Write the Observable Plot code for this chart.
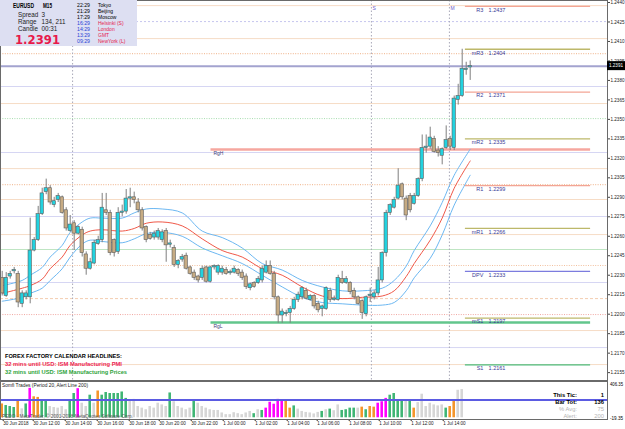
<!DOCTYPE html>
<html><head><meta charset="utf-8">
<script src="https://cdn.jsdelivr.net/npm/d3@7"></script>
<script src="https://cdn.jsdelivr.net/npm/@observablehq/plot@0.6"></script>
<style>
html,body{margin:0;padding:0;background:#fff}
#chart{width:625px;height:429px;overflow:hidden}
#chart svg{display:block}
</style></head><body><div id="chart"></div><script>
// ---------- DATA ----------
const open  = [1.2228,1.2214,1.2229,1.2233,1.2231,1.2208,1.2213,1.2213,1.2249,1.2257,1.2277,1.2294,1.2297,1.2284,1.2288,1.2290,1.2280,1.2264,1.2270,1.2262,1.2265,1.2246,1.2235,1.2239,1.2254,1.2257,1.2280,1.2278,1.2257,1.2248,1.2278,1.2279,1.2289,1.2290,1.2286,1.2280,1.2267,1.2261,1.2259,1.2259,1.2257,1.2264,1.2254,1.2251,1.2238,1.2242,1.2245,1.2236,1.2232,1.2229,1.2228,1.2236,1.2225,1.2236,1.2232,1.2232,1.2234,1.2232,1.2232,1.2234,1.2232,1.2229,1.2220,1.2224,1.2224,1.2226,1.2232,1.2237,1.2231,1.2213,1.2199,1.2200,1.2201,1.2204,1.2211,1.2213,1.2218,1.2211,1.2214,1.2208,1.2204,1.2204,1.2218,1.2211,1.2211,1.2227,1.2224,1.2224,1.2218,1.2213,1.2210,1.2200,1.2214,1.2213,1.2216,1.2226,1.2247,1.2278,1.2282,1.2289,1.2300,1.2289,1.2291,1.2285,1.2291,1.2304,1.2328,1.2329,1.2335,1.2326,1.2322,1.2328,1.2335,1.2328,1.2365,1.2368,1.2388,1.2390];
const high  = [1.2233,1.2232,1.2233,1.2236,1.2233,1.2218,1.2218,1.2274,1.2259,1.2283,1.2297,1.2304,1.2299,1.2290,1.2293,1.2291,1.2282,1.2276,1.2272,1.2268,1.2267,1.2248,1.2243,1.2257,1.2260,1.2293,1.2293,1.2280,1.2258,1.2282,1.2284,1.2296,1.2297,1.2294,1.2289,1.2282,1.2268,1.2263,1.2264,1.2266,1.2265,1.2266,1.2257,1.2253,1.2242,1.2246,1.2247,1.2237,1.2234,1.2230,1.2237,1.2237,1.2237,1.2238,1.2238,1.2237,1.2236,1.2234,1.2237,1.2235,1.2234,1.2231,1.2224,1.2225,1.2229,1.2237,1.2241,1.2241,1.2233,1.2214,1.2204,1.2203,1.2206,1.2213,1.2217,1.2221,1.2220,1.2215,1.2215,1.2210,1.2207,1.2221,1.2220,1.2214,1.2230,1.2233,1.2229,1.2225,1.2220,1.2214,1.2211,1.2214,1.2220,1.2218,1.2236,1.2248,1.2280,1.2285,1.2290,1.2312,1.2301,1.2291,1.2293,1.2293,1.2305,1.2338,1.2338,1.2344,1.2337,1.2329,1.2328,1.2345,1.2337,1.2368,1.2377,1.2404,1.2394,1.2395];
const low   = [1.2214,1.2213,1.2227,1.2231,1.2205,1.2205,1.2211,1.2208,1.2248,1.2256,1.2276,1.2292,1.2284,1.2282,1.2286,1.2277,1.2264,1.2263,1.2249,1.2261,1.2244,1.2230,1.2234,1.2238,1.2253,1.2255,1.2276,1.2245,1.2244,1.2246,1.2275,1.2277,1.2282,1.2285,1.2278,1.2264,1.2255,1.2257,1.2257,1.2257,1.2255,1.2240,1.2251,1.2236,1.2235,1.2240,1.2234,1.2230,1.2226,1.2224,1.2226,1.2224,1.2224,1.2234,1.2230,1.2230,1.2230,1.2230,1.2231,1.2229,1.2226,1.2219,1.2218,1.2220,1.2223,1.2224,1.2231,1.2230,1.2211,1.2193,1.2193,1.2198,1.2193,1.2203,1.2209,1.2211,1.2211,1.2210,1.2204,1.2201,1.2198,1.2203,1.2209,1.2210,1.2210,1.2223,1.2223,1.2215,1.2211,1.2207,1.2196,1.2198,1.2209,1.2211,1.2214,1.2224,1.2244,1.2276,1.2281,1.2288,1.2288,1.2272,1.2278,1.2284,1.2290,1.2302,1.2324,1.2327,1.2324,1.2321,1.2315,1.2327,1.2326,1.2326,1.2361,1.2367,1.2384,1.2380];
const close = [1.2216,1.2228,1.2231,1.2234,1.2209,1.2216,1.2216,1.2249,1.2257,1.2277,1.2293,1.2297,1.2286,1.2287,1.2291,1.2278,1.2266,1.2269,1.2262,1.2267,1.2247,1.2235,1.2240,1.2255,1.2257,1.2282,1.2278,1.2247,1.2247,1.2278,1.2279,1.2289,1.2290,1.2288,1.2280,1.2266,1.2257,1.2258,1.2262,1.2264,1.2263,1.2253,1.2254,1.2238,1.2241,1.2244,1.2235,1.2231,1.2228,1.2226,1.2235,1.2225,1.2236,1.2237,1.2237,1.2235,1.2231,1.2232,1.2235,1.2231,1.2228,1.2221,1.2223,1.2221,1.2227,1.2235,1.2237,1.2231,1.2213,1.2199,1.2202,1.2201,1.2204,1.2211,1.2215,1.2220,1.2212,1.2214,1.2206,1.2203,1.2206,1.2220,1.2211,1.2212,1.2228,1.2224,1.2227,1.2217,1.2213,1.2208,1.2201,1.2213,1.2215,1.2216,1.2226,1.2247,1.2278,1.2284,1.2288,1.2299,1.2290,1.2276,1.2280,1.2291,1.2304,1.2328,1.2329,1.2336,1.2325,1.2324,1.2327,1.2334,1.2329,1.2366,1.2368,1.2389,1.2389,1.2391];

// envelope (bar index, mid, upper, lower)
const maIdx   = [0,5,7,10,12,15,17,20,22,25,30,33,36,40,45,50,55,60,65,70,75,80,85,90,95,98,101,103,107,110,113,117];
const maMid   = [1.2216,1.2220,1.2222,1.2227,1.2235,1.2244,1.2253,1.2261,1.2264,1.2265,1.2264,1.2266,1.2270,1.2271,1.2268,1.2258,1.2249,1.2244,1.2235,1.2230,1.2221,1.2214,1.2212,1.2213,1.2214,1.2218,1.2229,1.2239,1.2257,1.2274,1.2297,1.2318];
const maUpper = [1.2222,1.2226,1.2230,1.2236,1.2244,1.2253,1.2263,1.2271,1.2274,1.2274,1.2274,1.2278,1.2281,1.2281,1.2278,1.2264,1.2259,1.2251,1.2239,1.2234,1.2226,1.2221,1.2218,1.2218,1.2220,1.2226,1.2237,1.2249,1.2268,1.2286,1.2307,1.2327];
const maLower = [1.2210,1.2213,1.2216,1.2220,1.2226,1.2235,1.2244,1.2254,1.2257,1.2256,1.2255,1.2258,1.2262,1.2263,1.2260,1.2251,1.2245,1.2239,1.2230,1.2221,1.2213,1.2209,1.2208,1.2207,1.2207,1.2209,1.2218,1.2228,1.2243,1.2261,1.2284,1.2307];

// pivot levels
const pivotNames  = ["R3","mR3","R2","mR2","R1","mR1","DPV","mS1","S1"];
const pivotValues = [1.2437,1.2404,1.2371,1.2335,1.2299,1.2266,1.2233,1.2197,1.2161];
const pivotKinds  = ["R","m","R","m","R","m","P","m","S"];

// range lines
const rangeNames  = ["RgH","RgL"];
const rangeValues = [1.23268,1.21936];

// background level lines
const levelPrices = [1.24376,1.24253,1.24122,1.24007,1.23753,1.23622,1.23506,1.23245,1.23121,1.22998,1.22883,1.22752,1.22613,1.22498,1.22375,1.22244,1.22120,1.21997,1.21874,1.21743,1.21612];
const levelKinds  = ["p","ld","p","pd","l","p","gd","l","p","pd","p","l","p","g","pd","l","pdash","rd","p","l","p"];

const bidPrice = 1.2391;

// period separators
const sepIdx    = [17.6, 92.3, 111.8];
const sepLabels = ["", "S", "M"];

// histogram (Somfi Trades)
const histValues = [155,137,126,115,188,100,155,330,235,228,199,199,126,115,108,126,90,199,272,326,163,126,253,163,300,253,283,272,272,272,289,217,199,206,126,108,90,126,108,163,144,126,278,180,126,108,90,108,191,163,126,108,90,82,82,54,35,35,57,46,35,54,71,46,90,82,108,174,152,206,199,191,108,133,97,71,60,54,43,60,71,90,97,79,144,82,90,108,108,108,119,90,126,119,163,180,217,253,272,199,199,199,199,108,170,264,126,163,144,133,144,108,126,191,308,316,137,137];
const histKinds  = "OGGGOgGMOOGGgggggGGMggGgOGGGGGGGggggggggggGgggggGggggggggggggggGgGMMMMMOOGggggggGgGggGGGGgOGOOMMMGGGGgGOgggggggGOOgg".split("");

const priceTicks = [1.2440,1.2425,1.2410,1.2395,1.2380,1.2365,1.2350,1.2335,1.2320,1.2305,1.2290,1.2275,1.2260,1.2245,1.2230,1.2215,1.2200,1.2185,1.2170,1.2155];
const timeTickIdx    = [0,7.5,15.5,23.5,31.5,39,47,55,63,71,78.5,86.5,94,102,110];
const timeTickLabels = ["30 Jun 2018","30 Jun 12:00","30 Jun 14:00","30 Jun 16:00","30 Jun 18:00","30 Jun 20:00","30 Jun 22:00","1 Jul 00:00","1 Jul 02:00","1 Jul 04:00","1 Jul 06:00","1 Jul 08:00","1 Jul 10:00","1 Jul 12:00","1 Jul 14:00"];

const subMax = 406.35, subMin = -19.35, alertLevel = 200;

// ---------- STYLE / LAYOUT ----------
const FONT = "'Liberation Sans', Arial, sans-serif";
const X_DOMAIN = [-0.425, 151.325];
const Y_DOMAIN = [1.214894, 1.244154];
const PIVOT_X1 = 115.8, PIVOT_X2 = 147.1, RANGE_X1 = 52.2;
const levelStyle = {
  p:     {c:"#f6dcc6", w:1},
  pd:    {c:"#f2c09e", w:1.2, d:"1,1.4"},
  pdash: {c:"#f3cdb0", w:1, d:"3,2"},
  l:     {c:"#d6d6f3", w:1},
  ld:    {c:"#c6c6ee", w:1, d:"2,2"},
  g:     {c:"#bfe5c3", w:1},
  gd:    {c:"#a6dcae", w:1, d:"1,1.4"},
  rd:    {c:"#f0a6a0", w:1, d:"1,1.4"}
};
const pivotColor = {R:"#f3a595", m:"#bdb86a", P:"#7c7cde", S:"#4cbc7c"};
const histColor = {G:"#3fb574", M:"#ff00ff", O:"#f4952a", g:"#d6d6d6"};

const bars = open.map((o,i)=>{
  const top = Math.max(o, close[i]), bot = Math.min(o, close[i]);
  const m = (top+bot)/2, half = Math.max((top-bot)/2, 0.00005);
  return {i, o, h: high[i], l: low[i], c: close[i], up: close[i] >= o, b1: m-half, b2: m+half};
});
const levels = levelPrices.map((p,k)=>({p, kind: levelKinds[k]}));
const pivots = pivotNames.map((n,k)=>({name:n, v:pivotValues[k], col: pivotColor[pivotKinds[k]]}));
const ranges = rangeNames.map((n,k)=>({name:n, v:rangeValues[k], col: k===0 ? "#f6a79f" : "#62c68c"}));
const ma = maIdx.map((x,k)=>({x, mid:maMid[k], up:maUpper[k], lo:maLower[k]}));
const seps = sepIdx.map((x,k)=>({x, label: sepLabels[k]}));
const hist = histValues.map((v,i)=>({i, v, col: histColor[histKinds[i]]}));

const marks = [];
for (const [kind, st] of Object.entries(levelStyle)) {
  marks.push(Plot.ruleY(levels.filter(d=>d.kind===kind), {y:"p", stroke: st.c, strokeWidth: st.w, strokeDasharray: st.d}));
}
marks.push(
  Plot.ruleX(seps, {x:"x", stroke:"#a8a8b8", strokeDasharray:"1.5,2"}),
  Plot.text(seps, {x:"x", text:"label", frameAnchor:"top", dy:6, dx:1, fill:"#6a5acd", fontSize:5, textAnchor:"start"}),
  Plot.ruleY(ranges, {y:"v", x1: ()=>RANGE_X1, x2: ()=>PIVOT_X2, stroke:"col", strokeWidth:2.6}),
  Plot.ruleY(pivots, {y:"v", x1: ()=>PIVOT_X1, x2: ()=>PIVOT_X2, stroke:"col", strokeWidth:1.3}),
  Plot.line(ma, {x:"x", y:"up", stroke:"#6db8f2", strokeWidth:1, curve:"catmull-rom"}),
  Plot.line(ma, {x:"x", y:"lo", stroke:"#6db8f2", strokeWidth:1, curve:"catmull-rom"}),
  Plot.line(ma, {x:"x", y:"mid", stroke:"#f05848", strokeWidth:1, curve:"catmull-rom"}),
  Plot.ruleY([bidPrice], {stroke:"#a3a3cf", strokeWidth:2}),
  Plot.ruleX(bars, {x:"i", y1:"l", y2:"h", stroke:"#7f7f7f", strokeWidth:1}),
  Plot.rect(bars, {x1: d=>d.i-0.42, x2: d=>d.i+0.42, y1:"b1", y2:"b2", fill: d=> d.up ? "#22d2df" : "#c6ab84", stroke:"#5c5c5c", strokeWidth:0.6}),
  Plot.text(pivots, {x: ()=>120.3, y:"v", text:"name", textAnchor:"end", dy:3.6, fill:"#3b3b97", fontSize:5.5}),
  Plot.text(pivots, {x: ()=>121.6, y:"v", text: d=>d.v.toFixed(4), textAnchor:"start", dy:3.6, fill:"#3b3b97", fontSize:5.5}),
  Plot.text(ranges, {x: ()=>RANGE_X1+0.6, y:"v", text:"name", textAnchor:"start", dy:3.8, fill:"#43437a", fontSize:5}),
  Plot.axisY(priceTicks, {anchor:"right", tickFormat: d=>d.toFixed(4), tickSize:2, tickPadding:1, fontSize:5, stroke:"#444"}),
  Plot.frame({stroke:"#6a6a6a"})
);

const main = Plot.plot({
  width:625, height:380, marginTop:0, marginRight:18, marginBottom:0, marginLeft:0,
  style:{fontFamily:FONT, background:"#fff", color:"#222", overflow:"visible"},
  x:{domain:X_DOMAIN, axis:null}, y:{domain:Y_DOMAIN, axis:null}, color:{type:"identity"},
  marks
});

const tickMap = new Map(timeTickIdx.map((t,k)=>[t, timeTickLabels[k]]));
const sub = Plot.plot({
  width:625, height:49, marginTop:1, marginRight:18, marginBottom:10, marginLeft:0,
  style:{fontFamily:FONT, background:"#fff", color:"#222"},
  x:{domain:X_DOMAIN, axis:null}, y:{domain:[subMin, subMax], axis:null}, color:{type:"identity"},
  marks:[
    Plot.rect(hist, {x1: d=>d.i-0.32, x2: d=>d.i+0.32, y1: ()=>0, y2:"v", fill:"col"}),
    Plot.ruleY([alertLevel], {stroke:"#5b5be2", strokeWidth:2}),
    Plot.axisX(timeTickIdx, {anchor:"bottom", tickFormat: d=>tickMap.get(d), textAnchor:"start", tickSize:2, tickPadding:0.5, fontSize:4.6, dx:1}),
    Plot.frame({stroke:"#6a6a6a"})
  ]
});

const root = document.getElementById("chart");
root.appendChild(main);
root.appendChild(sub);

function addText(svg, x, y, s, o={}) {
  const t = d3.select(svg).append("text").attr("x",x).attr("y",y).attr("dy","0.35em")
    .attr("font-family", o.family||FONT).attr("font-size", o.size||5).attr("font-weight", o.weight||"normal")
    .attr("fill", o.fill||"#000").attr("text-anchor", o.anchor||"start").text(s);
  if (o.len) t.attr("textLength", o.len).attr("lengthAdjust","spacingAndGlyphs");
  return t;
}

// squeeze price axis labels to match
d3.select(main).selectAll("g[aria-label='y-axis tick label'] text").attr("textLength", 14).attr("lengthAdjust","spacingAndGlyphs");

// bid price box on the axis
const yb = main.scale("y").apply(bidPrice);
d3.select(main).append("rect").attr("x",607).attr("y",yb-4.5).attr("width",18).attr("height",9).attr("fill","#000");
addText(main, 609, yb, bidPrice.toFixed(4), {fill:"#fff", size:5, len:14});

// info panel
d3.select(main).append("rect").attr("x",0).attr("y",0).attr("width",137).attr("height",46).attr("fill","#dddff2");
addText(main, 13, 6, "EURUSD", {weight:"bold", size:6.3, len:21});
addText(main, 43, 6, "M15", {weight:"bold", size:6.3, len:9});
[["Spread","3"],["Range","134, 211"],["Candle","00:31"]].forEach((r,k)=>{
  addText(main, 18, 15+k*7, r[0], {size:6.3, fill:"#222"});
  addText(main, 41.5, 15+k*7, r[1], {size:6.3, fill:"#222"});
});
addText(main, 15, 39.5, "1.2391", {weight:"bold", size:12.5, fill:"#e8194a", len:45, family:"'DejaVu Sans', sans-serif"});
const zones = [["22:29","Tokyo",0],["21:29","Beijing",0],["17:29","Moscow",0],["16:29","Helsinki (S)",1],["14:29","London",1],["13:29","GMT",1],["09:29","NewYork (L)",1]];
zones.forEach((z,k)=>{
  addText(main, 77, 5.7+k*5.95, z[0], {size:5, fill: z[2] ? "#2b3fd6" : "#000", len:13});
  addText(main, 98, 5.7+k*5.95, z[1], {size:5, fill: z[2] ? "#e5234f" : "#000"});
});

// calendar headlines
addText(main, 5, 356, "FOREX FACTORY CALENDAR HEADLINES:", {weight:"bold", size:5.3, len:117});
addText(main, 5, 364.3, "32 mins until USD: ISM Manufacturing PMI", {weight:"bold", size:5.3, fill:"#ec1f55", len:117});
addText(main, 5, 372.3, "32 mins until USD: ISM Manufacturing Prices", {weight:"bold", size:5.3, fill:"#2ea33a", len:122});

// sub-window texts
addText(sub, 2, 5.5, "Somfi Trades (Period 20, Alert Line 200)", {size:4.8, fill:"#222", len:86});
addText(sub, 2, 36, "PEDO - MetaTrader, \u00a9 2001-2018 MetaQuotes Software Corp.", {size:4.6, fill:"#555", len:131});
[["This Tic:","1","#000","bold"],["Bar Tot:","136","#000","bold"],["% Avg:","75","#b4b4b4","normal"],["Alert:","200","#b4b4b4","normal"]].forEach((r,k)=>{
  addText(sub, 577, 14.5+k*7.2, r[0], {size:5.8, anchor:"end", fill:r[2], weight:r[3]});
  addText(sub, 604, 14.5+k*7.2, r[1], {size:5.8, anchor:"end", fill:r[2], weight:r[3]});
});
addText(sub, 610, 4, subMax.toFixed(2), {size:4.6, len:13});
addText(sub, 610, 38, subMin.toFixed(2), {size:4.6, len:13});
</script></body></html>
